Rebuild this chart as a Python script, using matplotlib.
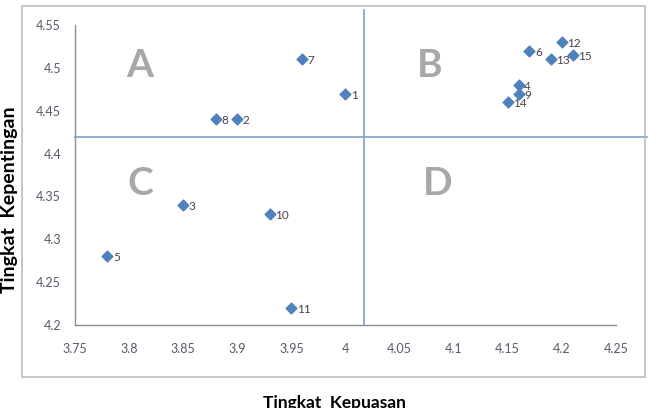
import matplotlib
matplotlib.use("Agg")
import matplotlib.pyplot as plt
from matplotlib.patches import Rectangle

# data
point_ids = ["1", "2", "3", "4", "5", "6", "7", "8", "9", "10", "11", "12", "13", "14", "15"]
kepuasan = [4.00, 3.90, 3.85, 4.16, 3.78, 4.17, 3.96, 3.88, 4.16, 3.93, 3.95, 4.20, 4.19, 4.15, 4.21]
kepentingan = [4.47, 4.44, 4.34, 4.48, 4.28, 4.52, 4.51, 4.44, 4.47, 4.33, 4.22, 4.53, 4.51, 4.46, 4.515]

x_mean = 4.017
y_mean = 4.42

x_ticks = [3.75, 3.8, 3.85, 3.9, 3.95, 4, 4.05, 4.1, 4.15, 4.2, 4.25]
x_ticklabels = ["3.75", "3.8", "3.85", "3.9", "3.95", "4", "4.05", "4.1", "4.15", "4.2", "4.25"]
y_ticks = [4.2, 4.25, 4.3, 4.35, 4.4, 4.45, 4.5, 4.55]
y_ticklabels = ["4.2", "4.25", "4.3", "4.35", "4.4", "4.45", "4.5", "4.55"]

quadrants = ["A", "B", "C", "D"]

marker_color = "#4f81bd"
line_color = "#7ea1c9"
tick_color = "#5e5668"

fig = plt.figure(figsize=(6.58, 4.08), dpi=100)
fig.patch.set_facecolor("white")

# outer chart frame
frame = Rectangle((0.0334, 0.076), 0.947, 0.909, transform=fig.transFigure,
                  fill=False, edgecolor="#bcbcbc", linewidth=1.2)
fig.add_artist(frame)

ax = fig.add_axes([0.114, 0.2034, 0.822, 0.735])
ax.set_xlim(3.75, 4.25)
ax.set_ylim(4.2, 4.55)
ax.set_xticks(x_ticks)
ax.set_xticklabels(x_ticklabels)
ax.set_yticks(y_ticks)
ax.set_yticklabels(y_ticklabels)
ax.tick_params(length=0, labelsize=9, colors=tick_color, pad=13)
ax.tick_params(axis="y", pad=10)
for lab in ax.get_xticklabels() + ax.get_yticklabels():
    lab.set_fontfamily("Lato")

for side in ["top", "right"]:
    ax.spines[side].set_visible(False)
for side in ["left", "bottom"]:
    ax.spines[side].set_color("#8c8c8c")
    ax.spines[side].set_linewidth(1.0)

# quadrant lines (extend a bit beyond the plot area like the original)
ax.plot([x_mean, x_mean], [0, 1.05], color=line_color, lw=1.2,
        transform=ax.get_xaxis_transform(), clip_on=False, zorder=1)
ax.plot([0, 1.057], [y_mean, y_mean], color=line_color, lw=1.2,
        transform=ax.get_yaxis_transform(), clip_on=False, zorder=1)

ax.scatter(kepuasan, kepentingan, marker="D", s=30, color=marker_color, zorder=3)
for pid, x, y in zip(point_ids, kepuasan, kepentingan):
    ax.annotate(pid, (x, y), xytext=(4, -1), textcoords="offset points",
                fontsize=8.5, color="#4a4050", va="center", ha="left", family="Lato")

quad_pos = [(0.12, 0.867), (0.656, 0.867), (0.12, 0.473), (0.671, 0.473)]
for q, (qx, qy) in zip(quadrants, quad_pos):
    ax.text(qx, qy, q, transform=ax.transAxes, fontsize=28, fontweight="bold",
            color="#a8a8a8", ha="center", va="center", family="Lato")

fig.text(0.509, 0.012, "Tingkat  Kepuasan", ha="center", va="center",
         fontsize=12.5, fontweight="bold", family="Lato")
fig.text(0.014, 0.51, "Tingkat  Kepentingan", ha="center", va="center",
         rotation=90, fontsize=14, fontweight="bold", family="Lato")

fig.savefig("out.png", dpi=100)
